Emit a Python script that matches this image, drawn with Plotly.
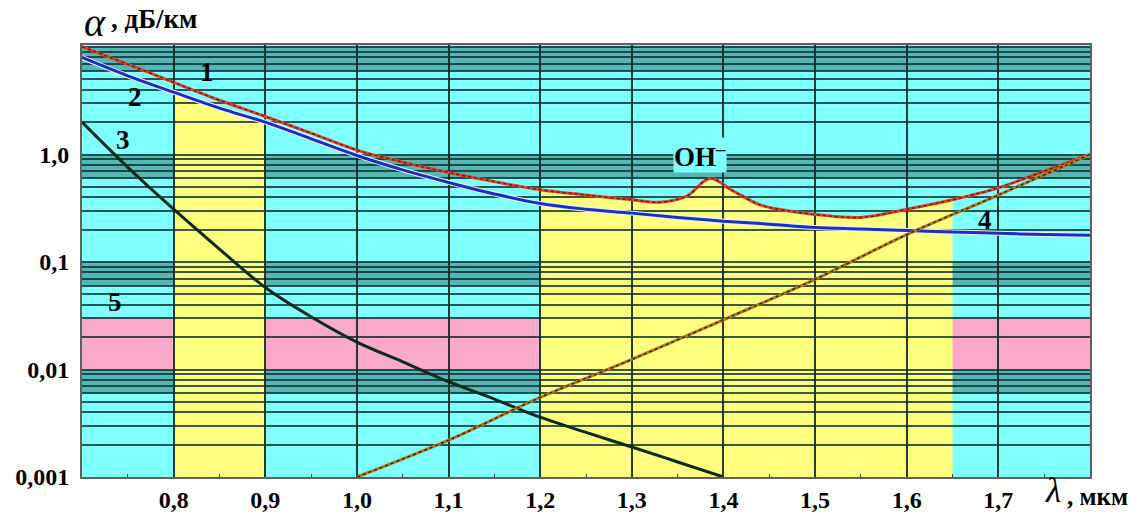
import plotly.graph_objects as go
import numpy as np

# ---------------- data ----------------
# curve 1: total losses
x1 = [0.70, 0.75, 0.80, 0.85, 0.90, 0.95, 1.00, 1.05, 1.10, 1.15, 1.20, 1.25, 1.30,
      1.33, 1.36, 1.385, 1.41, 1.44, 1.47, 1.50, 1.55, 1.60, 1.65, 1.70, 1.75, 1.80]
y1 = [10.1, 6.9, 4.7, 3.2, 2.26, 1.58, 1.1, 0.85, 0.68, 0.56, 0.47, 0.42, 0.38,
      0.36, 0.41, 0.60, 0.46, 0.34, 0.30, 0.277, 0.26, 0.31, 0.38, 0.49, 0.70, 1.0]
# curve 2: Rayleigh scattering
x2 = [0.70, 0.75, 0.80, 0.85, 0.90, 0.95, 1.00, 1.05, 1.10, 1.15, 1.20, 1.25, 1.30,
      1.35, 1.40, 1.45, 1.50, 1.55, 1.60, 1.65, 1.70, 1.75, 1.80]
y2 = [8.0, 5.4, 3.8, 2.7, 2.0, 1.4, 0.98, 0.72, 0.55, 0.43, 0.35, 0.31, 0.285,
      0.26, 0.24, 0.225, 0.21, 0.203, 0.196, 0.19, 0.185, 0.18, 0.177]
# curve 3: UV absorption
x3 = [0.70, 0.75, 0.80, 0.85, 0.90, 0.95, 1.00, 1.05, 1.10, 1.15, 1.20, 1.25, 1.30, 1.35, 1.40]
y3 = [2.0, 0.76, 0.31, 0.132, 0.058, 0.031, 0.018, 0.0118, 0.0077, 0.0053, 0.0036,
      0.0026, 0.0019, 0.00138, 0.001]
# curve 4: IR absorption
x4 = [1.00, 1.10, 1.20, 1.30, 1.40, 1.50, 1.60, 1.70, 1.80]
y4 = [0.001, 0.0022, 0.0055, 0.0124, 0.029, 0.069, 0.18, 0.42, 1.0]
# curve 5: impurity losses band
band5 = [0.01, 0.03]
# transparency windows (x-range, which curve bounds it from above)
windows = [(0.80, 0.90, "2"), (1.20, 1.65, "1")]

x_ticks = [0.8, 0.9, 1.0, 1.1, 1.2, 1.3, 1.4, 1.5, 1.6, 1.7]
x_ticktext = ["0,8", "0,9", "1,0", "1,1", "1,2", "1,3", "1,4", "1,5", "1,6", "1,7"]
y_major = [0.001, 0.01, 0.1, 1.0]
y_major_text = ["0,001", "0,01", "0,1", "1,0"]

X_RANGE = [0.7, 1.8]
Y_LOG_RANGE = [-3, 1.019]

# ---------------- styles ----------------
CYAN = "#80FFFF"
YELLOW = "#FFFF80"
PINK = "#F9A9C9"
FONT = "Liberation Serif"

fig = go.Figure()

shapes = []
curves = {"1": (x1, y1), "2": (x2, y2)}
ybase = 10 ** Y_LOG_RANGE[0]
for lo, hi, cid in windows:
    xs, ys = curves[cid]
    pts = [(x, y) for x, y in zip(xs, ys) if lo - 1e-9 <= x <= hi + 1e-9]
    d = f"M {lo},{ybase} " + " ".join(f"L {x},{y}" for x, y in pts) + f" L {hi},{ybase} Z"
    shapes.append(dict(type="path", path=d, xref="x", yref="y", fillcolor=YELLOW,
                       line=dict(width=0), layer="below"))

# darker zones where the dense log grid lines merge (upper part of each decade)
for k in range(-3, 2):
    shapes.append(dict(type="rect", xref="paper", yref="y", x0=0, x1=1,
                       y0=0.6 * 10 ** k, y1=min(10 ** k, 10 ** Y_LOG_RANGE[1]),
                       fillcolor="rgba(0,30,30,0.33)", line=dict(width=0), layer="below"))

shapes.append(dict(type="rect", xref="paper", yref="y", x0=0, x1=1,
                   y0=band5[0], y1=band5[1], fillcolor=PINK, line=dict(width=0), layer="below"))

# ---------------- curves ----------------
fig.add_trace(go.Scatter(x=x2, y=y2, mode="lines", line=dict(color="#E8F0FF", width=5, shape="spline"),
                         hoverinfo="skip", showlegend=False))
fig.add_trace(go.Scatter(x=x2, y=y2, mode="lines", line=dict(color="#1A2FC0", width=3, shape="spline"),
                         name="2", showlegend=False))
fig.add_trace(go.Scatter(x=x1, y=y1, mode="lines", line=dict(color="#D8452B", width=3, shape="spline"),
                         name="1", showlegend=False))
fig.add_trace(go.Scatter(x=x1, y=y1, mode="lines",
                         line=dict(color="#7A1A10", width=1.5, shape="spline", dash="dot"),
                         hoverinfo="skip", showlegend=False))
fig.add_trace(go.Scatter(x=x3, y=y3, mode="lines", line=dict(color="#0E2A1C", width=3, shape="spline"),
                         name="3", showlegend=False))
fig.add_trace(go.Scatter(x=x4, y=y4, mode="lines", line=dict(color="#B07A20", width=3, shape="spline"),
                         name="4", showlegend=False))
fig.add_trace(go.Scatter(x=x4, y=y4, mode="lines",
                         line=dict(color="#3A2A10", width=1.5, shape="spline", dash="dot"),
                         hoverinfo="skip", showlegend=False))

# ---------------- axes ----------------
y_tickvals, y_ticktext = [], []
for k in range(-3, 2):
    for m in range(1, 10):
        v = m * 10.0 ** k
        if v > 10 ** Y_LOG_RANGE[1]:
            continue
        y_tickvals.append(v)
        y_ticktext.append(y_major_text[y_major.index(v)] if (m == 1 and v in y_major) else " ")

tickfont = dict(family=FONT, size=24, color="black", weight="bold")

fig.update_xaxes(range=X_RANGE, tickvals=x_ticks, ticktext=x_ticktext, tickfont=tickfont,
                 showgrid=True, gridcolor="rgba(15,40,30,0.9)", gridwidth=2.2,
                 ticks="",
                 showline=True, mirror=True, linecolor="#606060", linewidth=2,
                 zeroline=False, automargin=False,
                 minor=dict(tick0=0.75, dtick=0.1, ticks="inside", ticklen=3,
                            tickcolor="#404040", showgrid=False))
fig.update_yaxes(type="log", range=Y_LOG_RANGE, tickvals=y_tickvals, ticktext=y_ticktext,
                 tickfont=tickfont, showgrid=True, gridcolor="rgba(10,45,45,0.8)", gridwidth=2,
                 ticks="outside", ticklen=6, tickcolor="rgba(0,0,0,0)",
                 showline=True, mirror=True, linecolor="#606060", linewidth=2,
                 zeroline=False, automargin=False)

# ---------------- labels ----------------
lab_font = dict(family=FONT, size=27, color="black", weight="bold")
labels = [("1", 0.836, 0.767), ("2", 0.758, 0.535), ("3", 0.745, 0.135),
          ("4", 1.685, -0.609), ("5", 0.736, -1.372)]
annotations = []
for t, xx, yy in labels:
    annotations.append(dict(x=xx, y=yy, xref="x", yref="y", text=t, showarrow=False,
                            font=lab_font, xanchor="center", yanchor="middle"))
annotations.append(dict(x=1.374, y=0.0, xref="x", yref="y", text="OH<sup>–</sup>", showarrow=False,
                        font=lab_font, xanchor="center", yanchor="middle", bgcolor=CYAN,
                        borderpad=0))
annotations.append(dict(x=0.0, y=1.052, xref="paper", yref="paper",
                        text="<i>α</i>", showarrow=False, xanchor="left", yanchor="middle",
                        font=dict(family=FONT, size=40, color="black")))
annotations.append(dict(x=0.027, y=1.06, xref="paper", yref="paper",
                        text=", дБ/км", showarrow=False, xanchor="left", yanchor="middle",
                        font=dict(family=FONT, size=27, color="black", weight="bold")))
annotations.append(dict(x=0.953, y=-0.032, xref="paper", yref="paper",
                        text="<i>λ</i>", showarrow=False, xanchor="left", yanchor="middle",
                        font=dict(family=FONT, size=35, color="black")))
annotations.append(dict(x=0.975, y=-0.046, xref="paper", yref="paper",
                        text=", мкм", showarrow=False, xanchor="left", yanchor="middle",
                        font=dict(family=FONT, size=25, color="black", weight="bold")))

fig.update_layout(width=1141, height=514, margin=dict(l=82, r=51, t=45, b=37),
                  paper_bgcolor="white", plot_bgcolor=CYAN, shapes=shapes,
                  annotations=annotations, showlegend=False)

fig.write_html("out.html")
